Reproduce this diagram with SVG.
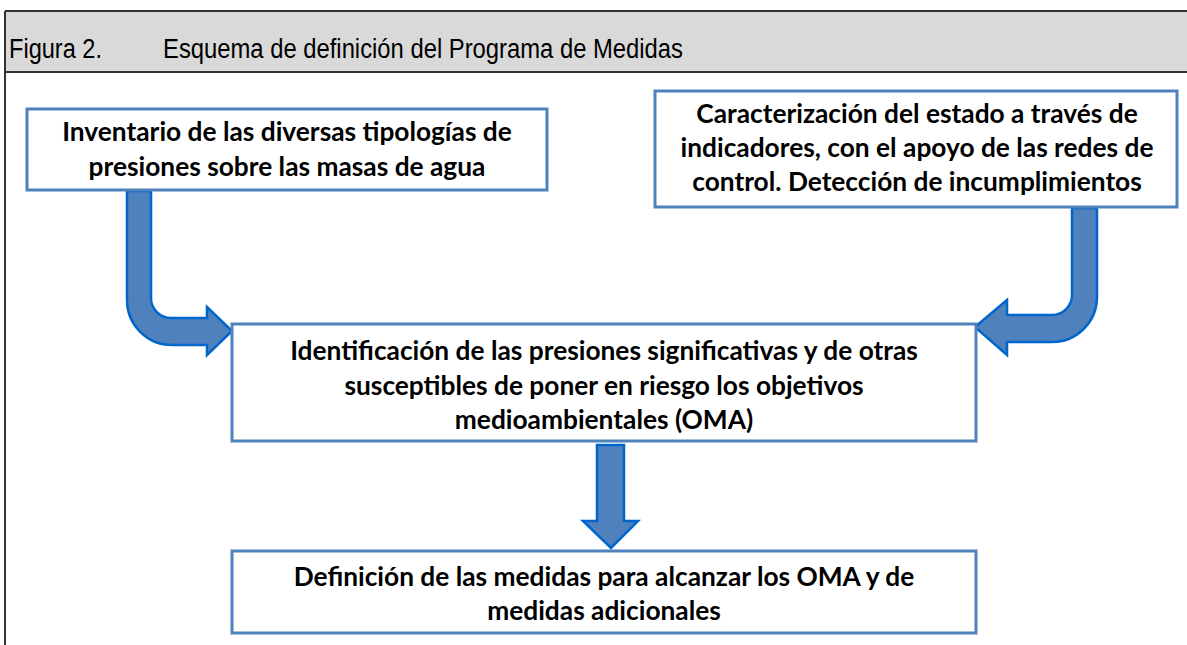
<svg xmlns="http://www.w3.org/2000/svg" width="1187" height="645" viewBox="0 0 1187 645">
<style>
.box{fill:#fff;stroke:#4F81BD;stroke-width:3}
.t{font-family:Lato,"Liberation Sans",sans-serif;font-weight:bold;font-size:26.3px;fill:#000;text-anchor:middle}
.arr{fill:#4F81BD;stroke:#0066CC;stroke-width:2.5;stroke-linejoin:miter}
.hdr{font-family:"Liberation Sans Narrow","Liberation Sans",sans-serif;font-size:27px;fill:#000}
</style>
<rect x="5" y="11" width="1190" height="61" fill="#D9D9D9"/>
<line x1="5" y1="11" x2="1187" y2="11" stroke="#333" stroke-width="2"/>
<line x1="5" y1="72" x2="1187" y2="72" stroke="#333" stroke-width="2"/>
<line x1="5" y1="11" x2="5" y2="645" stroke="#333" stroke-width="2"/>
<text class="hdr" x="9" y="58" textLength="93" lengthAdjust="spacingAndGlyphs">Figura 2.</text>
<text class="hdr" x="163" y="58" textLength="520" lengthAdjust="spacingAndGlyphs">Esquema de definición del Programa de Medidas</text>
<g id="connectors">
<path class="arr" d="M127,191 L127,300 A45,45 0 0 0 172,345 L207,345 L207,355 L232,331 L207,307 L207,318 L171,318 A20,20 0 0 1 151,298 L151,191 Z"/>
<path class="arr" d="M1097,208 L1097,297 A45,45 0 0 1 1052,342 L1007,342 L1007,355 L975,327 L1007,300 L1007,315 L1052,315 A20,20 0 0 0 1072,295 L1072,208 Z"/>
<path class="arr" d="M597,445 L624,445 L624,521 L638,521 L611,548 L583,521 L597,521 Z"/>
</g>
<g id="n1">
<rect class="box" x="27" y="109" width="520" height="81"/>
<text class="t" x="287" y="141">Inventario de las diversas tipologías de</text>
<text class="t" x="287" y="176">presiones sobre las masas de agua</text>
</g>
<g id="n2">
<rect class="box" x="655" y="91" width="522" height="116"/>
<text class="t" x="917" y="123">Caracterización del estado a través de</text>
<text class="t" x="917" y="157">indicadores, con el apoyo de las redes de</text>
<text class="t" x="917" y="191">control. Detección de incumplimientos</text>
</g>
<g id="n3">
<rect class="box" x="232" y="324" width="744" height="117"/>
<text class="t" x="604" y="360">Identificación de las presiones significativas y de otras</text>
<text class="t" x="604" y="395">susceptibles de poner en riesgo los objetivos</text>
<text class="t" x="604" y="429">medioambientales (OMA)</text>
</g>
<g id="n4">
<rect class="box" x="232" y="551" width="744" height="82"/>
<text class="t" x="604" y="586">Definición de las medidas para alcanzar los OMA y de</text>
<text class="t" x="604" y="620">medidas adicionales</text>
</g>
</svg>
